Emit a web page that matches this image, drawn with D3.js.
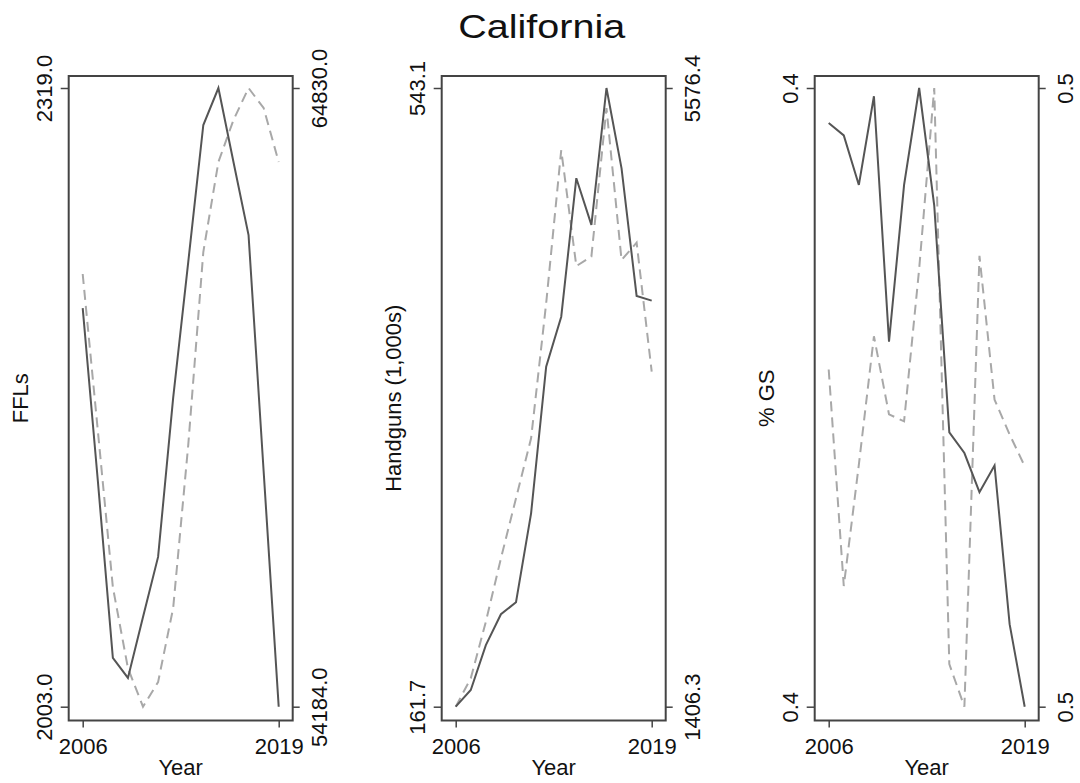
<!DOCTYPE html>
<html>
<head>
<meta charset="utf-8">
<script src="https://cdn.jsdelivr.net/npm/d3@7"></script>
<style>
  body { margin: 0; background: #fff; }
  svg { display: block; font-family: "Liberation Sans", Arial, sans-serif; }
</style>
</head>
<body>
<div id="chart"></div>
<script>
// data, one value per year
const years = [2006, 2007, 2008, 2009, 2010, 2011, 2012, 2013, 2014, 2015, 2016, 2017, 2018, 2019]
const yearTicks = [2006, 2019]

// FFLs (left) and its dashed companion (right axis)
const fflSolid = [2206.6, 2118.8, 2027.9, 2017.7, 2048.8, 2079.5, 2160.7, 2230.1, 2300.1, 2319.0, 2281.2, 2243.9, 2123.4, 2003.0]
const fflDashed = [61629, 58944, 56242, 54848, 54184, 54607, 55881, 58686, 62008, 63556, 64279, 64830, 64486, 63556]
const fflLeftTicks = [2003.0, 2319.0]
const fflRightTicks = [54184.0, 64830.0]

// Handguns (1,000s)
const hgSolid = [161.7, 172.0, 199.7, 218.7, 226.1, 280.9, 371.3, 402.1, 487.5, 458.7, 543.1, 493.6, 414.9, 412.0]
const hgDashed = [1406.3, 1597.7, 1979, 2406, 2811, 3215, 4125, 5158, 4376, 4440, 5441, 4417, 4534, 3664]
const hgLeftTicks = [161.7, 543.1]
const hgRightTicks = [1406.3, 5576.4]

// % GS
const gsSolid = [0.4133, 0.4127, 0.4103, 0.4146, 0.4027, 0.4103, 0.415, 0.4093, 0.3983, 0.3973, 0.3954, 0.3967, 0.3890, 0.385]
const gsDashed = [0.5036, 0.4756, 0.4913, 0.5079, 0.4978, 0.4969, 0.5166, 0.54, 0.4655, 0.46, 0.5183, 0.4997, 0.4952, 0.4911]
const gsLeftTicks = [0.385, 0.415]
const gsRightTicks = [0.46, 0.54]

const panels = [
    { title: "FFLs", solid: fflSolid, dashed: fflDashed, left: fflLeftTicks, right: fflRightTicks },
    { title: "Handguns (1,000s)", solid: hgSolid, dashed: hgDashed, left: hgLeftTicks, right: hgRightTicks },
    { title: "% GS", solid: gsSolid, dashed: gsDashed, left: gsLeftTicks, right: gsRightTicks }
]

const W = 1080, H = 783
const fmt = d3.format(".1f")
const plotTop = 88, plotBottom = 706.7, plotW = 196
const padX = 14, frameTop = 76, frameBottom = 720.5

const svg = d3.select("#chart")
    .append("svg")
    .attr("width", W)
    .attr("height", H)

svg.append("text")
    .text("California")
    .attr("x", 541.7)
    .attr("y", 37.7)
    .attr("text-anchor", "middle")
    .attr("textLength", 167)
    .attr("lengthAdjust", "spacingAndGlyphs")
    .style("font-size", "34px")
    .style("fill", "#111")

panels.forEach(function (p, i) {
    const x0 = 82.7 + i * 373
    const x = d3.scaleLinear().domain(d3.extent(yearTicks)).range([x0, x0 + plotW])
    const yL = d3.scaleLinear().domain(p.left).range([plotBottom, plotTop])
    const yR = d3.scaleLinear().domain(p.right).range([plotBottom, plotTop])
    const fl = x0 - padX, fr = x0 + plotW + padX
    const g = svg.append("g")

    // x axis
    g.append("g")
        .attr("transform", `translate(0, ${frameBottom})`)
        .call(d3.axisBottom(x).tickValues(yearTicks).tickFormat(d3.format("d")).tickSize(7).tickPadding(10))
        .call(a => a.select(".domain").remove())
        .call(a => a.selectAll("line").attr("stroke", "#444").attr("stroke-width", 1.5))
        .call(a => a.selectAll("text").style("font-size", "22px").attr("fill", "#111")
            .attr("dy", null).attr("y", 33.5))

    // left axis, rotated labels
    g.append("g")
        .attr("transform", `translate(${fl}, 0)`)
        .call(d3.axisLeft(yL).tickValues(p.left).tickFormat(fmt).tickSize(8))
        .call(a => a.select(".domain").remove())
        .call(a => a.selectAll("line").attr("stroke", "#444").attr("stroke-width", 1.5))
        .call(a => a.selectAll("text")
            .style("font-size", "22px").attr("fill", "#111")
            .attr("x", null).attr("dy", null)
            .attr("text-anchor", "middle")
            .attr("transform", "translate(-16.5, 0) rotate(-90)"))

    // right axis
    g.append("g")
        .attr("transform", `translate(${fr}, 0)`)
        .call(d3.axisRight(yR).tickValues(p.right).tickFormat(fmt).tickSize(7))
        .call(a => a.select(".domain").remove())
        .call(a => a.selectAll("line").attr("stroke", "#444").attr("stroke-width", 1.5))
        .call(a => a.selectAll("text")
            .style("font-size", "22px").attr("fill", "#111")
            .attr("x", null).attr("dy", null)
            .attr("text-anchor", "middle")
            .attr("transform", "translate(34.5, 0) rotate(-90)"))

    // lines
    g.append("path")
        .datum(p.dashed)
        .attr("fill", "none")
        .attr("stroke", "#a8a8a8")
        .attr("stroke-width", 2)
        .attr("stroke-dasharray", "10,6")
        .attr("d", d3.line().x((d, j) => x(years[j])).y(d => yR(d)))

    g.append("path")
        .datum(p.solid)
        .attr("fill", "none")
        .attr("stroke", "#555")
        .attr("stroke-width", 2)
        .attr("d", d3.line().x((d, j) => x(years[j])).y(d => yL(d)))

    // frame
    g.append("rect")
        .attr("x", fl)
        .attr("y", frameTop)
        .attr("width", fr - fl)
        .attr("height", frameBottom - frameTop)
        .attr("fill", "none")
        .attr("stroke", "#444")
        .attr("stroke-width", 2)

    // axis titles
    g.append("text")
        .text(p.title)
        .attr("text-anchor", "middle")
        .attr("transform", `translate(${fl - 41}, ${(frameTop + frameBottom) / 2}) rotate(-90)`)
        .style("font-size", "22px")
        .style("fill", "#111")

    g.append("text")
        .text("Year")
        .attr("x", x0 + plotW / 2)
        .attr("y", 775)
        .attr("text-anchor", "middle")
        .style("font-size", "22px")
        .style("fill", "#111")
})
</script>
</body>
</html>
